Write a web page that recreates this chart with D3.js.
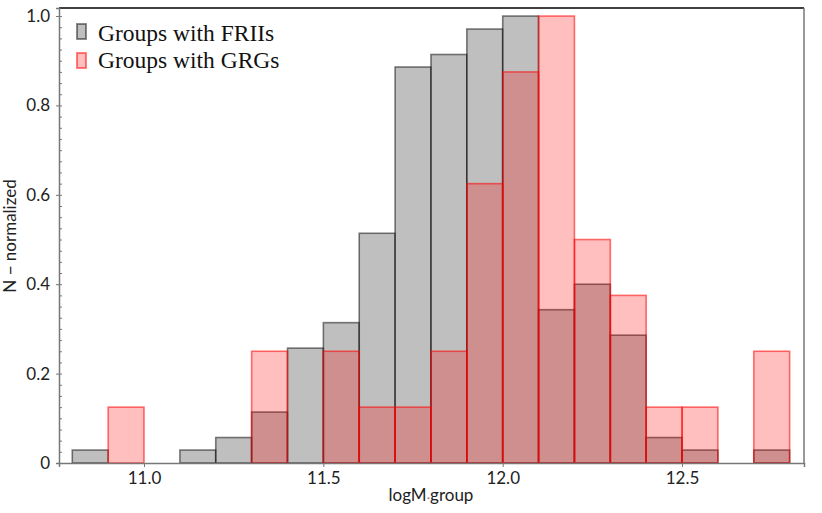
<!doctype html>
<html>
<head>
<meta charset="utf-8">
<style>
  html, body { margin: 0; padding: 0; background: #fff; }
  svg { display: block; }
  .tick text { font-family: Lato, "DejaVu Sans", sans-serif; font-size: 17px; fill: #222; }
  .legend text { font-family: "Liberation Serif", serif; font-size: 23.5px; fill: #111; }
  .label { font-family: Lato, "DejaVu Sans", sans-serif; font-size: 17px; fill: #222; }
</style>
<script src="https://cdn.jsdelivr.net/npm/d3@7"></script>
</head>
<body>
<svg id="chart" width="822" height="513"></svg>
<script>
// bin left edges, width 0.1
var binStarts = [10.8, 10.9, 11.0, 11.1, 11.2, 11.3, 11.4, 11.5, 11.6, 11.7,
                 11.8, 11.9, 12.0, 12.1, 12.2, 12.3, 12.4, 12.5, 12.6, 12.7];
var binWidth = 0.1;
var frii = [0.029, 0, 0, 0.029, 0.057, 0.114, 0.257, 0.314, 0.514, 0.886,
            0.914, 0.971, 1.0, 0.343, 0.4, 0.286, 0.057, 0.029, 0, 0.029];
var grg = [0, 0.125, 0, 0, 0, 0.25, 0, 0.25, 0.125, 0.125,
           0.25, 0.625, 0.875, 1.0, 0.5, 0.375, 0.125, 0.125, 0, 0.25];
var xTicks = [11.0, 11.5, 12.0, 12.5];
var yTicks = [0, 0.2, 0.4, 0.6, 0.8, 1.0];
var legendLabels = ['Groups with FRIIs', 'Groups with GRGs'];

var plotL = 59, plotR = 804, plotT = 8, plotB = 463;
var svg = d3.select('#chart');

var x = d3.scaleLinear().domain([10.763, 12.84]).range([plotL, plotR]);
var y = d3.scaleLinear().domain([0, 1.018]).range([plotB, plotT]);

function drawBars(vals, fill, stroke) {
  svg.append('g').selectAll('rect')
    .data(vals.map(function(v, i) { return {x0: binStarts[i], v: v}; })
      .filter(function(d) { return d.v > 0; }))
    .enter().append('rect')
    .attr('x', function(d) { return x(d.x0); })
    .attr('width', function(d) { return x(d.x0 + binWidth) - x(d.x0); })
    .attr('y', function(d) { return y(d.v); })
    .attr('height', function(d) { return y(0) - y(d.v); })
    .attr('fill', fill)
    .attr('stroke', stroke)
    .attr('stroke-width', 1.6);
}
drawBars(frii, 'rgba(128,128,128,0.5)', 'rgba(0,0,0,0.5)');
drawBars(grg, 'rgba(255,0,0,0.25)', 'rgba(255,0,0,0.55)');

// frame
svg.append('line').attr('x1', plotL).attr('x2', plotR).attr('y1', plotT).attr('y2', plotT)
  .attr('stroke', '#000').attr('stroke-width', 1.3);
svg.append('line').attr('x1', plotR).attr('x2', plotR).attr('y1', plotT).attr('y2', plotB)
  .attr('stroke', '#777').attr('stroke-width', 1.5);

// axes
var xAxis = svg.append('g').attr('transform', 'translate(0,' + plotB + ')')
  .call(d3.axisBottom(x).tickValues(xTicks).tickFormat(d3.format('.1f')).tickSize(4).tickPadding(5));
var yAxis = svg.append('g').attr('transform', 'translate(' + plotL + ',0)')
  .call(d3.axisLeft(y).tickValues(yTicks)
    .tickFormat(function(d) { return d === 0 ? '0' : d3.format('.1f')(d); })
    .tickSize(3).tickPadding(6));
// minor ticks pointing inward
svg.append('g').attr('transform', 'translate(' + plotL + ',0)')
  .call(d3.axisRight(y).tickValues(d3.range(0, 1.001, 0.025)).tickSize(3).tickFormat(''))
  .select('.domain').remove();
[xAxis, yAxis].forEach(function(a) {
  a.select('.domain').attr('stroke', '#777').attr('stroke-width', 1.5);
});
svg.selectAll('.tick line').attr('stroke', '#777');

// axis labels
var xl = svg.append('text').attr('class', 'label')
  .attr('x', 431).attr('y', 501).attr('text-anchor', 'middle');
xl.append('tspan').text('logM');
xl.append('tspan').attr('font-size', 8).attr('dy', 2).attr('fill', '#777').text('*');
xl.append('tspan').attr('dy', -2).text('group');

svg.append('text').attr('class', 'label')
  .attr('transform', 'translate(16,236) rotate(-90)')
  .attr('font-size', 16.5)
  .attr('text-anchor', 'middle').text('N \u2212 normalized');

// legend
var leg = svg.append('g').attr('class', 'legend');
var legFills = ['rgba(128,128,128,0.5)', 'rgba(255,0,0,0.25)'];
var legStrokes = ['rgba(0,0,0,0.5)', 'rgba(255,0,0,0.55)'];
legendLabels.forEach(function(t, i) {
  leg.append('rect').attr('x', 77).attr('y', 24 + i * 29).attr('width', 9).attr('height', 15)
    .attr('fill', legFills[i]).attr('stroke', legStrokes[i]).attr('stroke-width', 1.8);
  leg.append('text').attr('x', 98).attr('y', 41 + i * 27).text(t);
});
</script>
</body>
</html>
